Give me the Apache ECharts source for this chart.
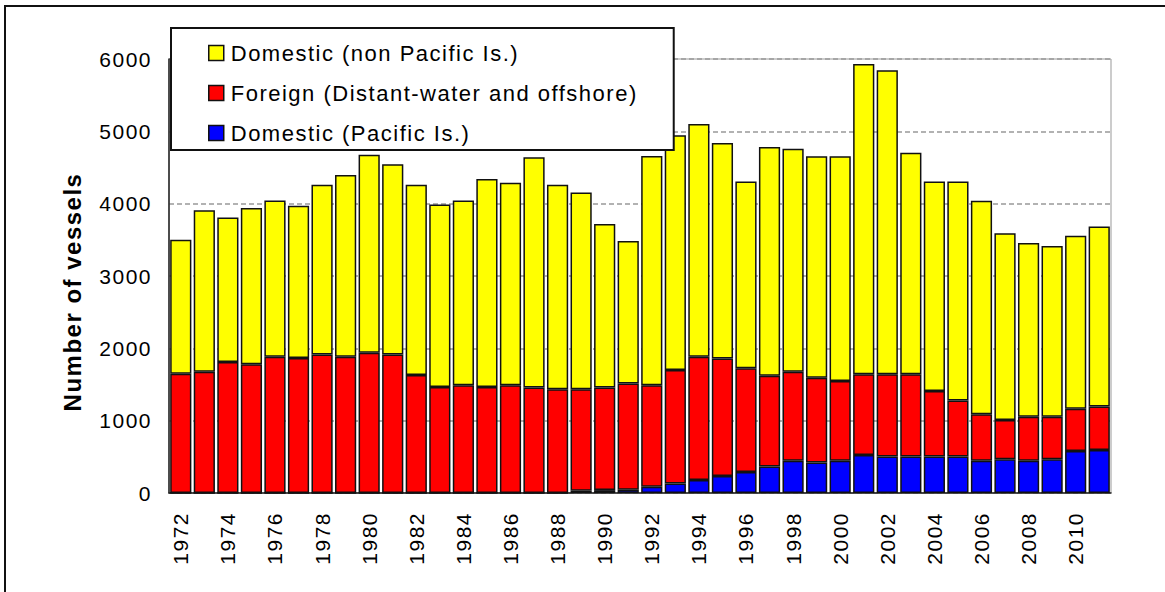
<!DOCTYPE html>
<html>
<head>
<meta charset="utf-8">
<title>Number of vessels</title>
<script src="https://cdn.jsdelivr.net/npm/echarts@6/dist/echarts.min.js"></script>
<style>
    html, body { margin: 0; padding: 0; background: #fff; }
    #main { width: 1165px; height: 592px; }
    /* the source picture has loosely spaced text */
    #main svg text { letter-spacing: 1.5px; }
</style>
</head>
<body>
<div id="main"></div>
<script>
// years 1972-2011
var years = [];
for (var y = 1972; y <= 2011; y++) {
    years.push(String(y));
}

// 数据 (vessels per year)
var pacificIs = [0, 0, 0, 0, 0, 0, 0, 0, 0, 0,
    0, 0, 0, 0, 0, 0, 0, 30, 40, 45,
    85, 130, 180, 235, 290, 365, 445, 420, 445, 525,
    505, 505, 505, 505, 445, 465, 445, 465, 580, 595];
var foreign = [1650, 1675, 1810, 1780, 1885, 1865, 1915, 1885, 1940, 1915,
    1630, 1465, 1490, 1465, 1490, 1460, 1435, 1405, 1420, 1470,
    1405, 1570, 1705, 1625, 1435, 1255, 1230, 1175, 1105, 1115,
    1135, 1135, 905, 775, 645, 545, 610, 590, 585, 600];
var nonPacific = [1850, 2235, 2000, 2160, 2160, 2105, 2345, 2510, 2735, 2630,
    2630, 2525, 2555, 2875, 2800, 3180, 2825, 2720, 2260, 1970,
    3170, 3245, 3215, 2980, 2580, 3165, 3085, 3060, 3105, 4290,
    4205, 3065, 2895, 3025, 2950, 2580, 2400, 2360, 2390, 2490];

var seriesNames = ['Domestic (non Pacific Is.)', 'Foreign (Distant-water and offshore)', 'Domestic (Pacific Is.)'];
var fontName = '"Liberation Sans", Arial, sans-serif';

var myChart = echarts.init(document.getElementById('main'), null, { renderer: 'svg' });

function barSeries(name, color, data) {
    return {
        name: name,
        type: 'bar',
        stack: 'total',
        barCategoryGap: '10%',
        itemStyle: {
            color: color,
            borderColor: '#111',
            borderWidth: 1.5
        },
        data: data
    };
}

option = {
    animation: false,
    textStyle: { fontFamily: fontName },
    grid: {
        show: true,
        left: 169,
        right: 54,
        top: 59,
        bottom: 99,
        borderColor: '#999',
        borderWidth: 1
    },
    legend: {
        orient: 'vertical',
        left: 171,
        top: 28,
        data: seriesNames,
        backgroundColor: '#fff',
        borderColor: '#111',
        borderWidth: 2,
        padding: [13, 90, 5, 37],
        itemGap: 16,
        itemWidth: 15,
        itemHeight: 15,
        icon: 'rect',
        itemStyle: { borderColor: '#111', borderWidth: 1.5 },
        textStyle: {
            fontSize: 22,
            lineHeight: 24,
            color: '#000',
            fontFamily: fontName,
            padding: [0, 0, 0, 2]
        }
    },
    xAxis: {
        type: 'category',
        data: years,
        axisTick: { show: false },
        axisLine: { show: true, lineStyle: { color: '#222', width: 1.5 } },
        axisLabel: {
            interval: 1,
            rotate: 90,
            fontSize: 21,
            color: '#000',
            margin: 19,
            fontFamily: fontName
        }
    },
    yAxis: {
        type: 'value',
        min: 0,
        max: 6000,
        interval: 1000,
        axisLine: { show: true, lineStyle: { color: '#222', width: 1.5 } },
        axisTick: { show: false },
        axisLabel: {
            fontSize: 21,
            color: '#000',
            margin: 17,
            fontFamily: fontName,
            formatter: function (v) { return String(v); }
        },
        splitLine: {
            show: true,
            lineStyle: { color: '#999', type: [5, 3], width: 1.5 }
        }
    },
    graphic: [
        {
            // frame round the picture
            type: 'rect',
            shape: { x: 5, y: 6, width: 1200, height: 700 },
            style: { fill: 'none', stroke: '#111', lineWidth: 2 },
            silent: true
        },
        {
            type: 'text',
            x: 72,
            y: 292,
            rotation: Math.PI / 2,
            style: {
                text: 'Number of vessels',
                fontSize: 24,
                fontWeight: 'bold',
                fontFamily: fontName,
                fill: '#000',
                align: 'center',
                verticalAlign: 'middle'
            }
        }
    ],
    series: [
        barSeries(seriesNames[2], '#0000ff', pacificIs),
        barSeries(seriesNames[1], '#ff0000', foreign),
        barSeries(seriesNames[0], '#ffff00', nonPacific)
    ]
};
myChart.setOption(option);
</script>
</body>
</html>
